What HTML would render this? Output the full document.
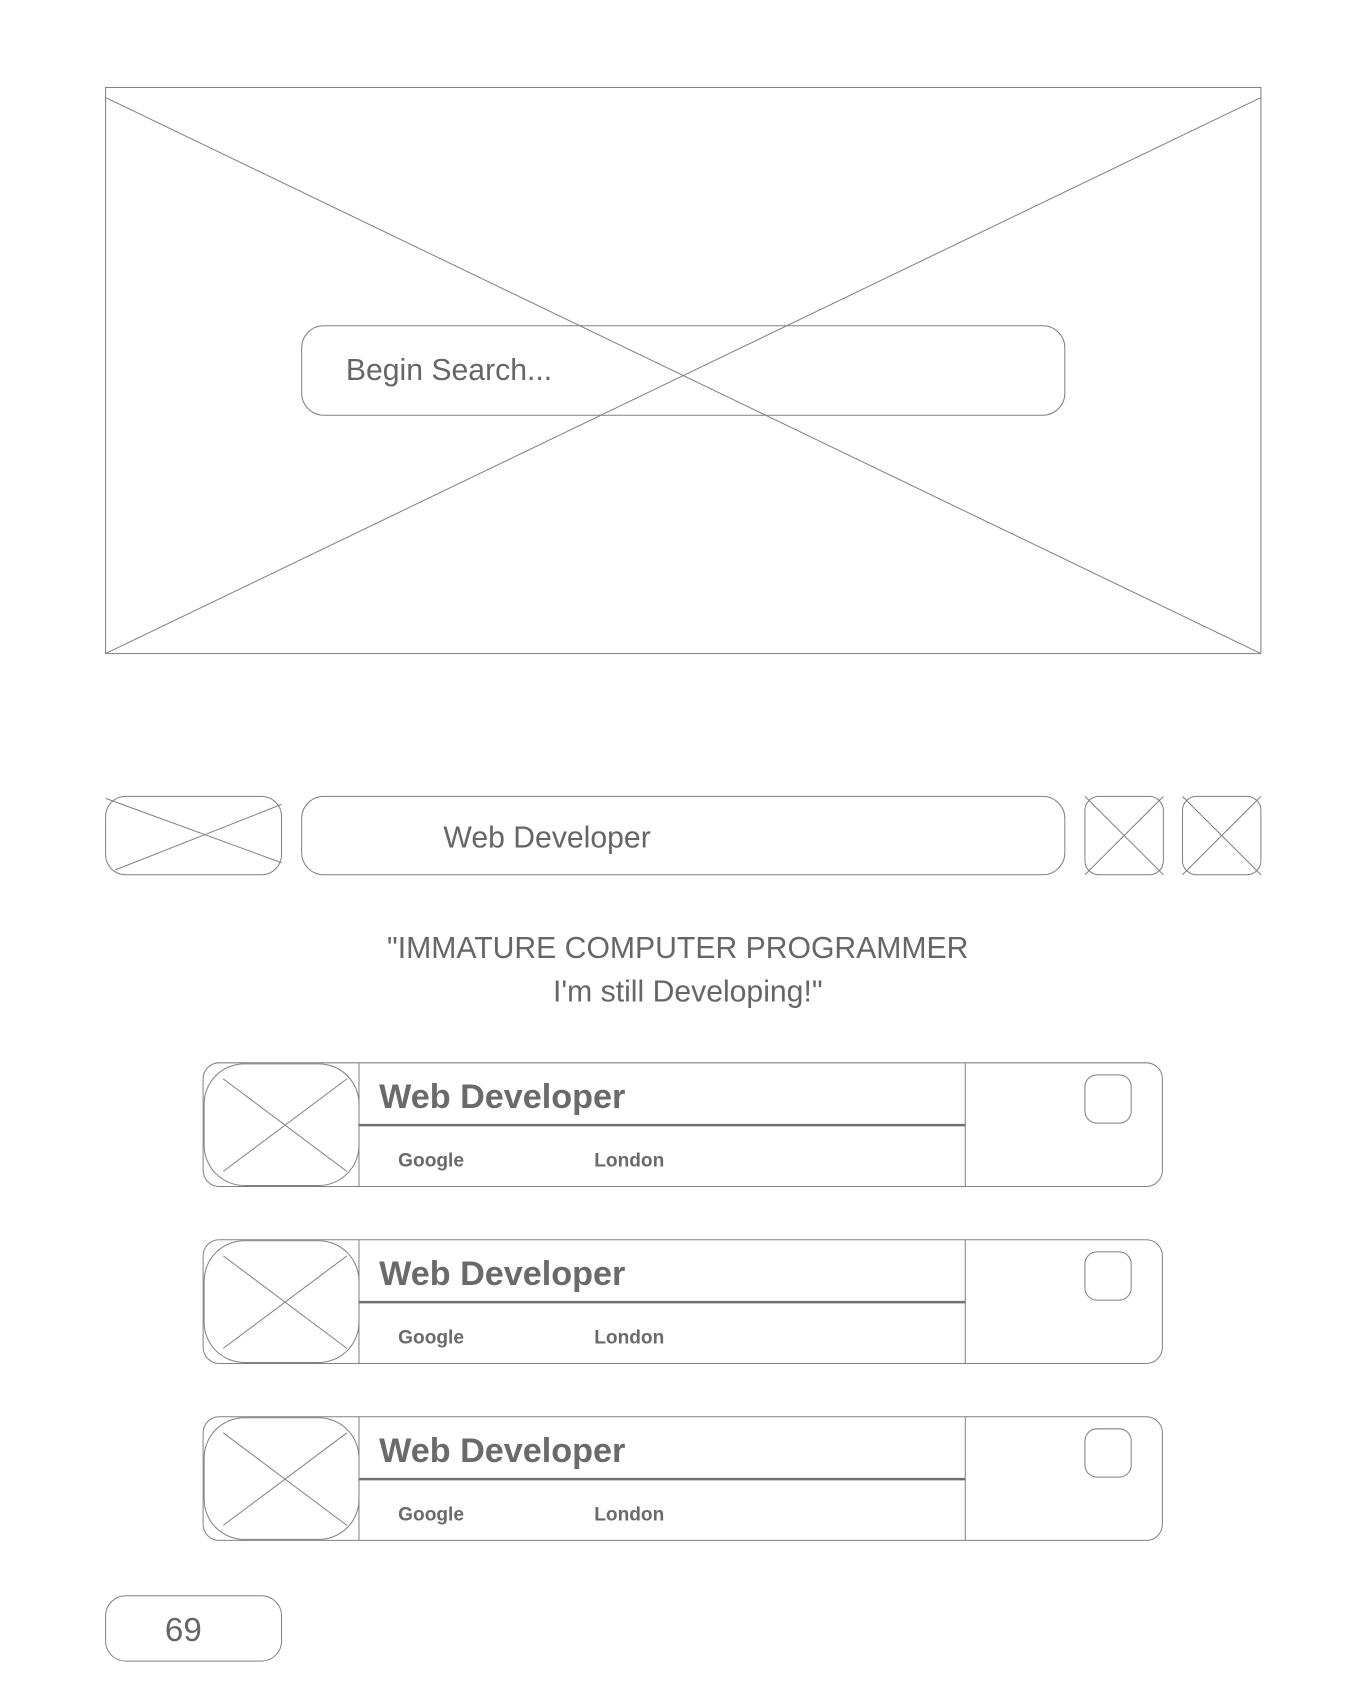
<!DOCTYPE html>
<html><head><meta charset="utf-8"><style>
html,body{margin:0;padding:0;background:#fff;}
svg{display:block;}
text{font-family:"Liberation Sans",sans-serif;fill:#666;}
</style></head><body>
<svg width="1366" height="1682" viewBox="0 0 1358.5 1672.8" xmlns="http://www.w3.org/2000/svg">
<g fill="none" stroke="#808080" stroke-width="1">
<rect x="105" y="87" width="1149" height="563"/>
<line x1="105" y1="97" x2="1254" y2="650"/>
<line x1="1254" y1="97" x2="105" y2="650"/>
<rect x="300" y="324" width="759" height="89" rx="22"/>
<rect x="105" y="792" width="175" height="78" rx="20"/>
<line x1="105" y1="794" x2="280" y2="858"/>
<line x1="280" y1="800" x2="115" y2="865"/>
<rect x="300" y="792" width="759" height="78" rx="22"/>
<rect x="1079" y="792" width="78" height="78" rx="14"/>
<line x1="1079" y1="792" x2="1157" y2="870"/><line x1="1157" y1="792" x2="1079" y2="870"/>
<rect x="1176" y="792" width="78" height="78" rx="14"/>
<line x1="1176" y1="792" x2="1254" y2="870"/><line x1="1254" y1="792" x2="1176" y2="870"/>
<rect x="105" y="1587" width="175" height="65" rx="20"/>
</g>
<text x="344" y="378" font-size="30">Begin Search...</text>
<text x="441" y="843" font-size="30">Web Developer</text>
<text x="674" y="953" font-size="30" text-anchor="middle">"IMMATURE COMPUTER PROGRAMMER</text>
<text x="684" y="996" font-size="30" text-anchor="middle">I'm still Developing!"</text>
<text x="164" y="1632" font-size="33">69</text>
<g id="c1">
<g fill="none" stroke="#808080" stroke-width="1">
<rect x="202" y="1057" width="954" height="123" rx="16"/>
<rect x="203" y="1058" width="154" height="121" rx="40"/>
<line x1="222" y1="1073" x2="345" y2="1165"/><line x1="345" y1="1073" x2="222" y2="1165"/>
<line x1="357" y1="1057" x2="357" y2="1180"/>
<line x1="960" y1="1057" x2="960" y2="1180"/>
<rect x="1079" y="1069" width="46" height="48" rx="12"/>
</g>
<line x1="357" y1="1119" x2="960" y2="1119" stroke="#707070" stroke-width="2.5"/>
<text x="377" y="1102" font-size="34" font-weight="bold" style="fill:#6a6a6a">Web Developer</text>
<text x="396" y="1160" font-size="19" font-weight="bold" style="fill:#6a6a6a">Google</text>
<text x="591" y="1160" font-size="19" font-weight="bold" style="fill:#6a6a6a">London</text>
</g>
<use href="#c1" y="176"/>
<use href="#c1" y="352"/>
</svg>
</body></html>
